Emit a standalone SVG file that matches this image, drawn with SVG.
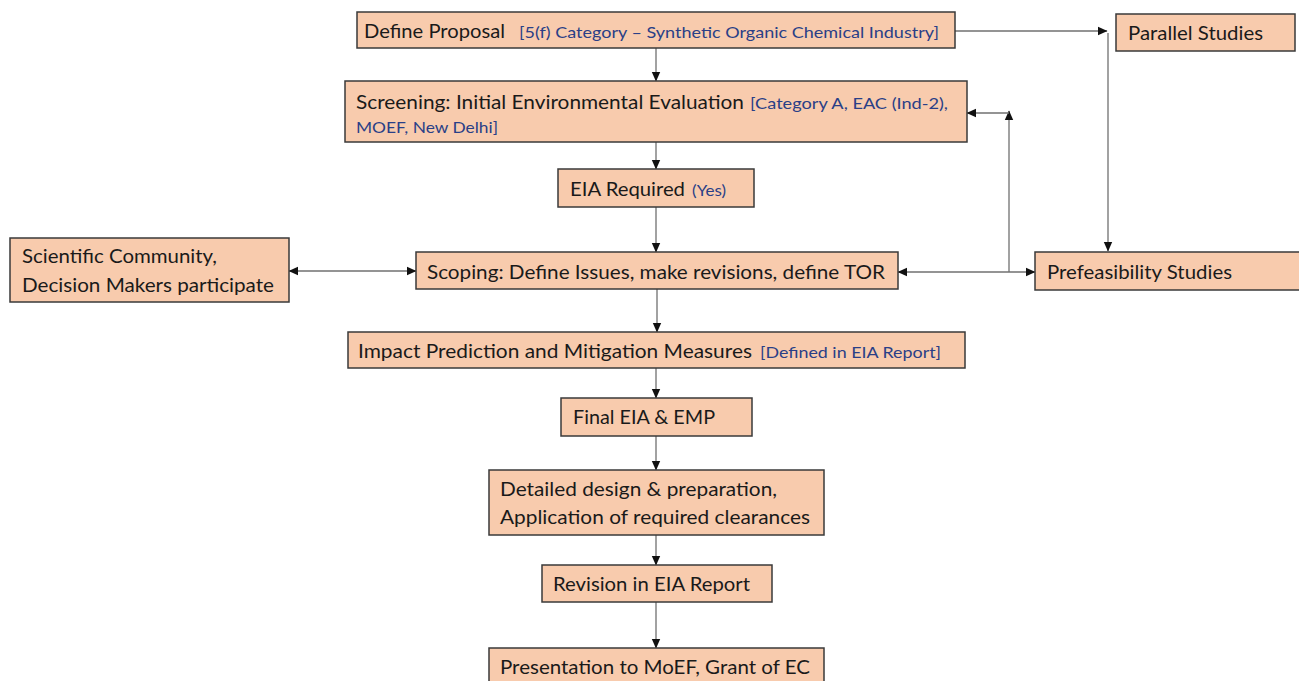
<svg xmlns="http://www.w3.org/2000/svg" width="1299" height="681" viewBox="0 0 1299 681">
<defs>
<marker id="ah" markerUnits="userSpaceOnUse" markerWidth="10" markerHeight="10" refX="9" refY="5" orient="auto-start-reverse" viewBox="0 0 10 10">
<path d="M0,0.8 L9.5,5 L0,9.2 Z" fill="#111"/>
</marker>
<style>
.box{fill:#F8CBAD;stroke:#3a3a3a;stroke-width:1.5}
.t{font-family:Lato,"Liberation Sans",sans-serif;font-size:20px;fill:#1a1a1a}
.b{font-family:Lato,"Liberation Sans",sans-serif;font-size:16px;fill:#2a3f87}
.c{fill:none;stroke:#707070;stroke-width:1.3}
</style>
</defs>
<rect width="1299" height="681" fill="#ffffff"/>
<g id="connectors">
<line class="c" x1="656" y1="48" x2="656" y2="81" marker-end="url(#ah)"/>
<line class="c" x1="955" y1="31" x2="1107" y2="31" marker-end="url(#ah)"/>
<line class="c" x1="1108" y1="33" x2="1108" y2="251" marker-end="url(#ah)"/>
<line class="c" x1="656" y1="142" x2="656" y2="169" marker-end="url(#ah)"/>
<line class="c" x1="656" y1="207" x2="656" y2="252" marker-end="url(#ah)"/>
<line class="c" x1="289" y1="271" x2="416" y2="271" marker-start="url(#ah)" marker-end="url(#ah)"/>
<line class="c" x1="898" y1="272" x2="1035" y2="272" marker-start="url(#ah)" marker-end="url(#ah)"/>
<line class="c" x1="1009" y1="272" x2="1009" y2="111" marker-end="url(#ah)"/>
<line class="c" x1="1009" y1="113" x2="967" y2="113" marker-end="url(#ah)"/>
<line class="c" x1="657" y1="289" x2="657" y2="332" marker-end="url(#ah)"/>
<line class="c" x1="656" y1="368" x2="656" y2="398" marker-end="url(#ah)"/>
<line class="c" x1="656" y1="436" x2="656" y2="470" marker-end="url(#ah)"/>
<line class="c" x1="656" y1="535" x2="656" y2="565" marker-end="url(#ah)"/>
<line class="c" x1="656" y1="602" x2="656" y2="648" marker-end="url(#ah)"/>
</g>
<g id="define-proposal">
<rect class="box" x="357" y="12" width="598" height="36"/>
<text class="t" x="364" y="38" textLength="141" lengthAdjust="spacingAndGlyphs">Define Proposal</text>
<text class="b" x="519" y="38" textLength="420" lengthAdjust="spacingAndGlyphs">[5(f) Category – Synthetic Organic Chemical Industry]</text>
</g>
<g id="parallel-studies">
<rect class="box" x="1116" y="14" width="179" height="37"/>
<text class="t" x="1128" y="40" textLength="135" lengthAdjust="spacingAndGlyphs">Parallel Studies</text>
</g>
<g id="screening">
<rect class="box" x="345" y="81" width="622" height="61"/>
<text class="t" x="356" y="109" textLength="388" lengthAdjust="spacingAndGlyphs">Screening: Initial Environmental Evaluation</text>
<text class="b" x="750" y="109" textLength="198" lengthAdjust="spacingAndGlyphs">[Category A, EAC (Ind-2),</text>
<text class="b" x="356" y="133" textLength="142" lengthAdjust="spacingAndGlyphs">MOEF, New Delhi]</text>
</g>
<g id="eia-required">
<rect class="box" x="558" y="169" width="196" height="38"/>
<text class="t" x="570" y="196" textLength="115" lengthAdjust="spacingAndGlyphs">EIA Required</text>
<text class="b" x="692" y="196" textLength="34" lengthAdjust="spacingAndGlyphs">(Yes)</text>
</g>
<g id="scientific-community">
<rect class="box" x="10" y="238" width="279" height="64"/>
<text class="t" x="22" y="263" textLength="195" lengthAdjust="spacingAndGlyphs">Scientific Community,</text>
<text class="t" x="22" y="292" textLength="252" lengthAdjust="spacingAndGlyphs">Decision Makers participate</text>
</g>
<g id="scoping">
<rect class="box" x="416" y="252" width="482" height="37"/>
<text class="t" x="427" y="279" textLength="458" lengthAdjust="spacingAndGlyphs">Scoping: Define Issues, make revisions, define TOR</text>
</g>
<g id="prefeasibility">
<rect class="box" x="1035" y="252" width="270" height="38"/>
<text class="t" x="1047" y="279" textLength="185" lengthAdjust="spacingAndGlyphs">Prefeasibility Studies</text>
</g>
<g id="impact-prediction">
<rect class="box" x="348" y="332" width="617" height="36"/>
<text class="t" x="358" y="358" textLength="394" lengthAdjust="spacingAndGlyphs">Impact Prediction and Mitigation Measures</text>
<text class="b" x="760" y="358" textLength="181" lengthAdjust="spacingAndGlyphs">[Defined in EIA Report]</text>
</g>
<g id="final-eia">
<rect class="box" x="561" y="398" width="191" height="38"/>
<text class="t" x="573" y="424" textLength="142" lengthAdjust="spacingAndGlyphs">Final EIA &amp; EMP</text>
</g>
<g id="detailed-design">
<rect class="box" x="489" y="470" width="335" height="65"/>
<text class="t" x="500" y="496" textLength="277" lengthAdjust="spacingAndGlyphs">Detailed design &amp; preparation,</text>
<text class="t" x="500" y="524" textLength="310" lengthAdjust="spacingAndGlyphs">Application of required clearances</text>
</g>
<g id="revision">
<rect class="box" x="542" y="565" width="230" height="37"/>
<text class="t" x="553" y="591" textLength="197" lengthAdjust="spacingAndGlyphs">Revision in EIA Report</text>
</g>
<g id="presentation">
<rect class="box" x="489" y="648" width="335" height="40"/>
<text class="t" x="500" y="674" textLength="310" lengthAdjust="spacingAndGlyphs">Presentation to MoEF, Grant of EC</text>
</g>
</svg>
